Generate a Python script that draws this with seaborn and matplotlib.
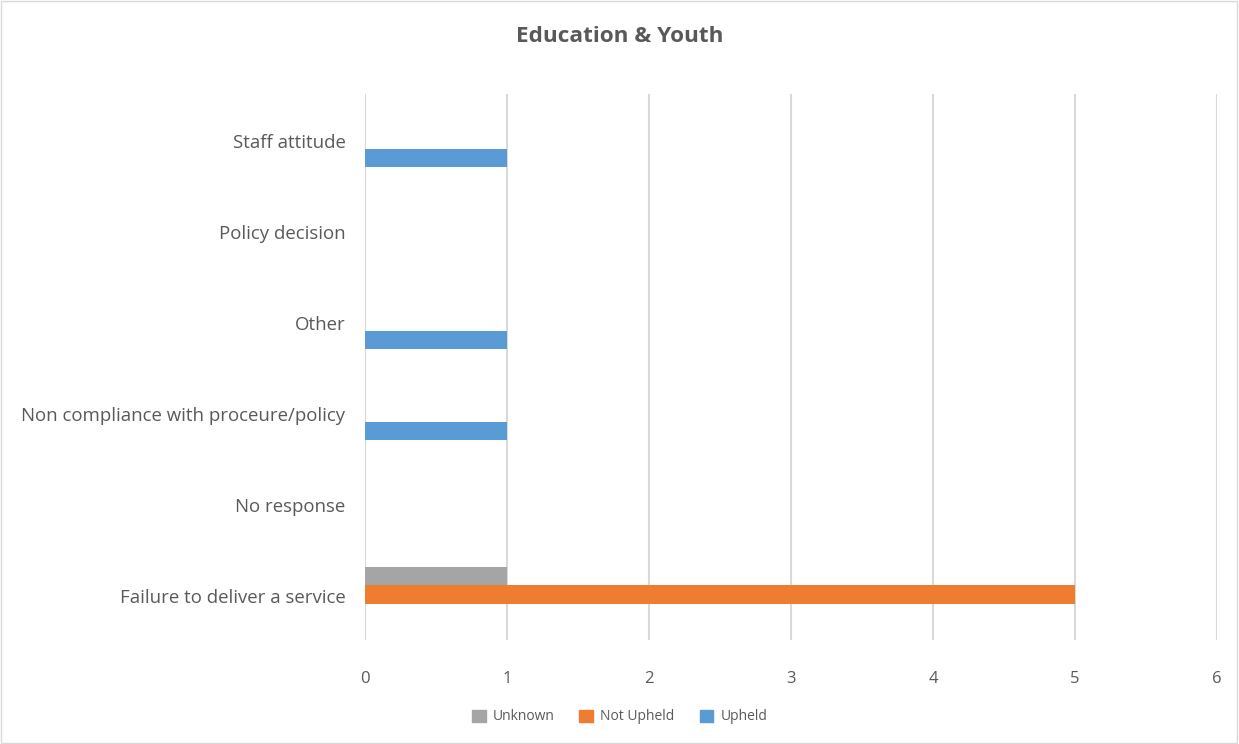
import matplotlib
matplotlib.use('Agg')
import matplotlib.pyplot as plt
import matplotlib.transforms as mtransforms
import pandas as pd
import seaborn as sns
from matplotlib.patches import Rectangle

# ── Data ─────────────────────────────────────────────────────
CATEGORIES = [
    'Staff attitude',
    'Policy decision',
    'Other',
    'Non compliance with proceure/policy',
    'No response',
    'Failure to deliver a service',
]
SERIES = ['Unknown', 'Not Upheld', 'Upheld']
UNKNOWN    = [0, 0, 0, 0, 0, 1]
NOT_UPHELD = [0, 0, 0, 0, 0, 5]
UPHELD     = [1, 0, 1, 1, 0, 0]
X_TICKS    = [0, 1, 2, 3, 4, 5, 6]

COLORS = {'Unknown': '#A5A5A5', 'Not Upheld': '#ED7D31', 'Upheld': '#5B9BD5'}
TEXT = '#595959'

rows = []
for name, vals in zip(SERIES, [UNKNOWN, NOT_UPHELD, UPHELD]):
    for cat, v in zip(CATEGORIES, vals):
        rows.append({'category': cat, 'series': name, 'value': v})
df = pd.DataFrame(rows)

sns.set_style('white')
plt.rcParams['font.family'] = ['Open Sans', 'DejaVu Sans']

fig = plt.figure(figsize=(12.39, 7.44), dpi=100)
ax = fig.add_axes([365 / 1239, 1 - 640 / 744, (1217 - 365) / 1239, (640 - 94) / 744])

sns.barplot(
    data=df, x='value', y='category', hue='series',
    order=CATEGORIES, hue_order=SERIES, palette=COLORS,
    orient='h', width=0.61, saturation=1, errorbar=None,
    linewidth=0, ax=ax, legend=False,
)

ax.set_xlim(0, 6)
ax.set_xticks(X_TICKS)
ax.xaxis.grid(True, color='#D9D9D9', linewidth=1.5)
ax.set_axisbelow(True)
for s in ax.spines.values():
    s.set_visible(False)
ax.set_xlabel('')
ax.set_ylabel('')
ax.tick_params(axis='x', length=0, labelsize=12, colors=TEXT, pad=22)
ax.tick_params(axis='y', length=0, labelsize=13.4, colors=TEXT, pad=14)

# nudge category labels a few pixels down, as in the reference
offset = mtransforms.ScaledTranslation(0, -3.5 / 100, fig.dpi_scale_trans)
for lbl in ax.get_yticklabels():
    lbl.set_va('center')
    lbl.set_transform(lbl.get_transform() + offset)

fig.text(0.5, 1 - 36 / 744, 'Education & Youth', ha='center', va='center',
         fontsize=16.2, fontweight='bold', color=TEXT)

handles = [Rectangle((0, 0), 1, 1, color=COLORS[s]) for s in SERIES]
fig.legend(handles, SERIES, loc='center', bbox_to_anchor=(0.5, 1 - 717 / 744),
           ncol=3, frameon=False, fontsize=10, labelcolor=TEXT,
           handlelength=1.0, handleheight=1.0, handletextpad=0.5, columnspacing=1.8)

fig.patches.append(Rectangle((0.001, 0.001), 0.997, 0.997, transform=fig.transFigure,
                             fill=False, edgecolor='#D9D9D9', linewidth=1))

fig.savefig('out.png', dpi=100, facecolor='white')
